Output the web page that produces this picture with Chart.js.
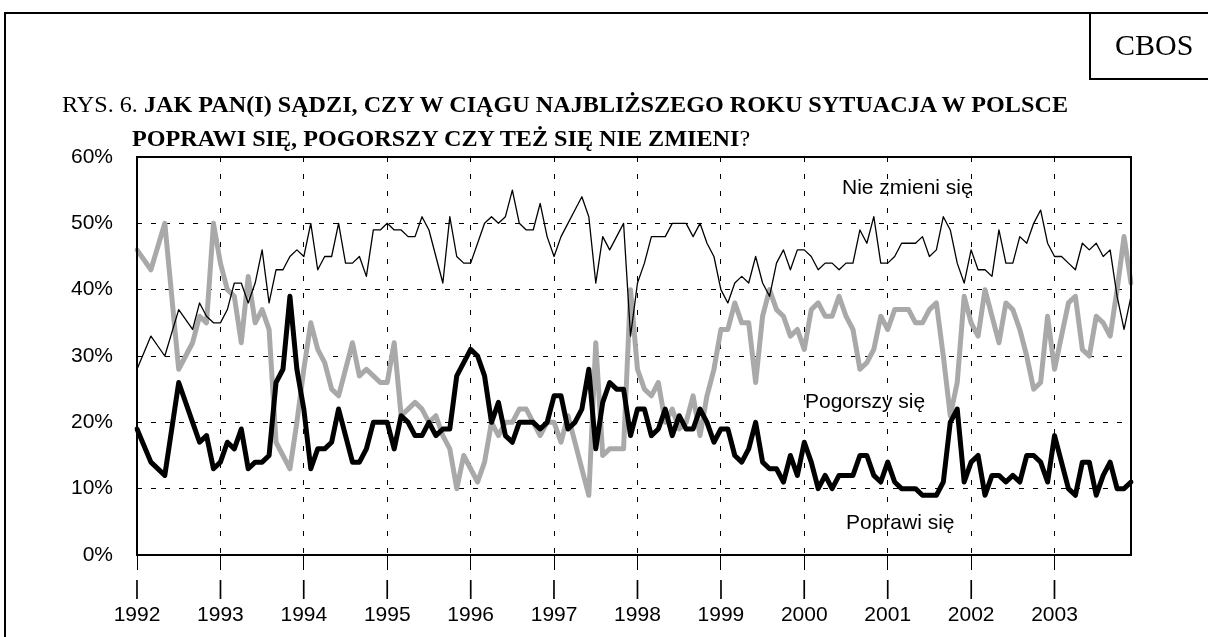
<!DOCTYPE html>
<html><head><meta charset="utf-8">
<script src="https://cdn.jsdelivr.net/npm/chart.js@4.4.0/dist/chart.umd.min.js"></script>
<style>
html,body{margin:0;padding:0;background:#fff;}
#wrap{position:relative;width:1208px;height:637px;overflow:hidden;background:#fff;}
#c{position:absolute;left:0;top:0;}
.frameTop{position:absolute;left:4px;top:12px;width:1204px;height:2px;background:#000;}
.frameLeft{position:absolute;left:4px;top:12px;width:2px;height:625px;background:#000;}
.cboxx{position:absolute;left:1089px;top:12px;width:119px;height:66px;border-left:2px solid #000;border-bottom:2px solid #000;}
.cbos{position:absolute;left:1115px;top:30px;font-family:'Liberation Serif';font-size:30px;line-height:30px;white-space:nowrap;}
.t{position:absolute;font-family:'Liberation Serif';font-size:24px;line-height:24px;white-space:nowrap;transform-origin:0 0;}
.t b{font-weight:bold;}
.lbl{position:absolute;font-family:'Liberation Sans';font-size:21px;line-height:21px;white-space:nowrap;color:#000;}
</style></head>
<body>
<div id="wrap">
<canvas id="c" width="1208" height="637"></canvas>
<div class="frameTop"></div>
<div class="frameLeft"></div>
<div class="cboxx"></div>
<div class="cbos">CBOS</div>
<div class="t" id="t1" style="left:62px;top:92px;">RYS. 6. <b>JAK PAN(I) SĄDZI, CZY W CIĄGU NAJBLIŻSZEGO ROKU SYTUACJA W POLSCE</b></div>
<div class="t" id="t2" style="left:132px;top:126px;"><b>POPRAWI SIĘ, POGORSZY CZY TEŻ SIĘ NIE ZMIENI</b>?</div>
<div class="lbl" style="left:842px;top:176px;">Nie zmieni się</div>
<div class="lbl" style="left:805px;top:390px;">Pogorszy się</div>
<div class="lbl" style="left:846px;top:511px;">Poprawi się</div>
</div>
<script>
const years = ['1992','1993','1994','1995','1996','1997','1998','1999','2000','2001','2002','2003'];
const yTicks = [0,10,20,30,40,50,60];

// Nie zmieni się
const nieZmieni = [
 28,null,33,null,30,null,37,null,34,38,36,35,
 35,37,41,41,38,41,46,38,43,43,45,46,
 45,50,43,45,45,50,44,44,45,42,49,49,
 50,49,49,48,48,51,49,45,41,51,45,44,
 44,47,50,51,50,51,55,50,49,49,53,48,
 45,48,50,52,54,51,41,48,46,48,50,33,
 41,44,48,48,48,50,50,50,48,50,47,45,
 40,38,41,42,41,45,41,39,44,46,43,46,
 46,45,43,44,44,43,44,44,49,47,51,44,
 44,45,47,47,47,48,45,46,51,49,44,41,
 46,43,43,42,49,44,44,48,47,50,52,47,
 45,45,44,43,47,46,47,45,46,39,34,39
];
// Pogorszy się
const pogorszy = [
 46,null,43,null,50,null,28,null,32,36,35,50,
 44,40,39,32,42,35,37,34,17,15,13,20,
 28,35,31,29,25,24,28,32,27,28,27,26,
 26,32,21,22,23,22,20,21,18,16,10,15,
 13,11,14,20,18,20,20,22,22,20,18,20,
 20,17,21,17,13,9,32,15,16,16,16,40,
 28,25,24,26,20,22,19,20,24,18,24,28,
 34,34,38,35,35,26,36,40,37,36,33,34,
 31,37,38,36,36,39,36,34,28,29,31,36,
 34,37,37,37,35,35,37,38,30,21,26,39,
 35,33,40,36,32,38,37,34,30,25,26,36,
 28,33,38,39,31,30,36,35,33,40,48,41
];
// Poprawi się
const poprawi = [
 19,null,14,null,12,null,26,null,20,17,18,13,
 14,17,16,19,13,14,14,15,26,28,39,28,
 22,13,16,16,17,22,18,14,14,16,20,20,
 20,16,21,20,18,18,20,18,19,19,27,29,
 31,30,27,20,23,18,17,20,20,20,19,20,
 24,24,19,20,22,28,16,23,26,25,25,18,
 22,22,18,19,22,18,21,19,19,22,20,17,
 19,19,15,14,16,20,14,13,13,11,15,12,
 17,14,10,12,10,12,12,12,15,15,12,11,
 14,11,10,10,10,9,9,9,11,20,22,11,
 14,15,9,12,12,11,12,11,15,15,14,11,
 18,14,10,9,14,14,9,12,14,10,10,11
];

const months = [];
years.forEach(y => { for (let m = 1; m <= 12; m++) months.push(m + '.' + y); });

const frame = {
  id: 'frame',
  afterDraw(chart) {
    const {ctx, chartArea: a} = chart;
    ctx.save();
    ctx.strokeStyle = '#000';
    ctx.lineWidth = 2;
    ctx.strokeRect(a.left, a.top, a.right - a.left, a.bottom - a.top);
    ctx.restore();
  }
};

const yearCol = c => (c.index % 12 === 0 ? '#000' : 'rgba(0,0,0,0)');

new Chart(document.getElementById('c'), {
  type: 'line',
  data: {
    labels: months,
    datasets: [
      {label: 'Poprawi się', data: poprawi, borderColor: '#000', borderWidth: 5},
      {label: 'Nie zmieni się', data: nieZmieni, borderColor: '#000', borderWidth: 1.3},
      {label: 'Pogorszy się', data: pogorszy, borderColor: '#a9a9a9', borderWidth: 5}
    ]
  },
  options: {
    responsive: false,
    animation: false,
    spanGaps: true,
    elements: {
      point: {radius: 0},
      line: {tension: 0, borderJoinStyle: 'round', borderCapStyle: 'round', fill: false}
    },
    layout: {padding: {top: 157, right: 77, left: 0, bottom: 0}},
    plugins: {legend: {display: false}, tooltip: {enabled: false}, title: {display: false}},
    scales: {
      x: {
        type: 'category',
        offset: false,
        afterFit: s => { s.height = 82; },
        border: {display: false, dash: [5, 12]},
        grid: {color: yearCol, tickColor: yearCol, lineWidth: 1, tickWidth: 1, tickLength: 15, drawTicks: true, tickBorderDash: []},
        ticks: {
          autoSkip: false, maxRotation: 0, minRotation: 0, padding: 6, color: '#000',
          font: {family: 'Liberation Sans', size: 21, lineHeight: 1.25},
          callback: (v, i) => (i % 12 === 0 ? ['|', years[i / 12]] : '')
        }
      },
      y: {
        min: 0, max: 60,
        afterFit: s => { s.width = 137; },
        afterBuildTicks: s => { s.ticks = yTicks.map(v => ({value: v})); },
        border: {display: false, dash: [5, 9]},
        grid: {color: '#000', lineWidth: 1, drawTicks: false},
        ticks: {
          padding: 24, color: '#000',
          font: {family: 'Liberation Sans', size: 21},
          callback: v => v + '%'
        }
      }
    }
  },
  plugins: [frame]
});

// same horizontal scale for both title lines, line 1 spanning ~62..1068
const t1 = document.getElementById('t1');
const t2 = document.getElementById('t2');
const s = 1006 / t1.getBoundingClientRect().width;
t1.style.transform = 'scaleX(' + s + ')';
t2.style.transform = 'scaleX(' + s + ')';
</script>
</body></html>
